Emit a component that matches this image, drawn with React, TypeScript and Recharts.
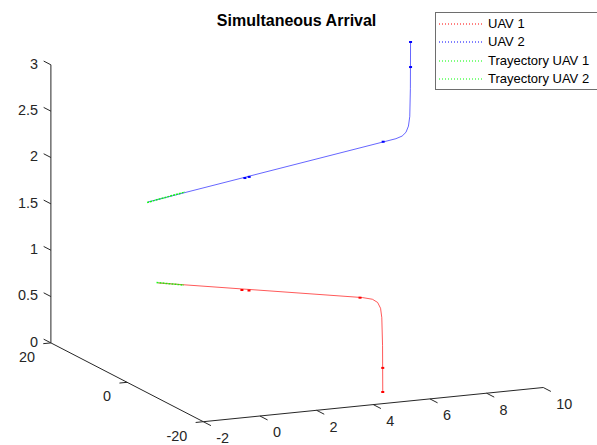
import React from 'react';
import { ComposedChart, Scatter, XAxis, YAxis, Legend } from 'recharts';

// ---- data (3D coordinates) ----
const uav1X = [-0.7, 4.5, 4.75, 4.88, 4.95, 4.98, 5.0, 5.0];
const uav1Y = [1.5, -13.45, -14.2, -14.6, -14.85, -14.95, -15.0, -15.05];
const uav1Z = [1, 1, 0.99, 0.96, 0.9, 0.8, 0.5, 0];

const uav2X = [-1.67, 9.27, 9.55, 9.72, 9.83, 9.89, 9.92, 9.93];
const uav2Y = [-3.06, 13.24, 13.7, 13.95, 14.12, 14.22, 14.28, 14.31];
const uav2Z = [2, 2, 2.01, 2.04, 2.1, 2.2, 2.5, 3];

const traj1X = [-0.73, -0.06];
const traj1Y = [1.72, -0.48];
const traj1Z = [1, 1];

const traj2X = [-1.73, -0.01];
const traj2Y = [-3.23, -0.39];
const traj2Z = [2, 2];

const uav1MarkX = [1.37, 1.55, 4.42, 5.0, 5.0];
const uav1MarkY = [-5.08, -5.6, -13.4, -15.05, -15.05];
const uav1MarkZ = [1, 1, 1, 0.26, 0];

const uav2MarkX = [2.56, 2.75, 8.72, 9.93, 9.93];
const uav2MarkY = [2.99, 3.28, 12.5, 14.31, 14.31];
const uav2MarkZ = [2, 2, 2, 2.73, 3];

const xTicks = [-2, 0, 2, 4, 6, 8, 10];
const xTickLabels = ['-2', '0', '2', '4', '6', '8', '10'];
const yTicks = [-20, 0, 20];
const yTickLabels = ['-20', '0', '20'];
const zTicks = [0, 0.5, 1, 1.5, 2, 2.5, 3];
const zTickLabels = ['0', '0.5', '1', '1.5', '2', '2.5', '3'];

const legendLabels = ['UAV 1', 'UAV 2', 'Trayectory UAV 1', 'Trayectory UAV 2'];
const legendColors = ['#ff0000', '#0000ff', '#00ff00', '#00ff00'];

const title = 'Simultaneous Arrival';

// ---- view (orthographic projection of the 3D box) ----
const W = 597;
const H = 445;
const VIEW = {
  ox: 203.3, oy: 421.7,
  x0: -2, y0: -20, z0: 0,
  ex: [28.33, -2.85],
  ey: [-3.81, -1.97],
  ez: [0, -92.7],
};
const project = (x: number, y: number, z: number) => {
  const a = x - VIEW.x0, b = y - VIEW.y0, c = z - VIEW.z0;
  return {
    px: VIEW.ox + VIEW.ex[0] * a + VIEW.ey[0] * b + VIEW.ez[0] * c,
    py: VIEW.oy + VIEW.ex[1] * a + VIEW.ey[1] * b + VIEW.ez[1] * c,
  };
};
const series = (xs: number[], ys: number[], zs: number[]) =>
  xs.map((x, i) => project(x, ys[i], zs[i]));

const AXIS = '#262626';
const FONT = '"Liberation Sans", Arial, Helvetica, sans-serif';

const uav1 = series(uav1X, uav1Y, uav1Z);
const uav2 = series(uav2X, uav2Y, uav2Z);
const traj1 = series(traj1X, traj1Y, traj1Z);
const traj2 = series(traj2X, traj2Y, traj2Z);
const marks1 = series(uav1MarkX, uav1MarkY, uav1MarkZ);
const marks2 = series(uav2MarkX, uav2MarkY, uav2MarkZ);

const xAxisLine = [project(-2, -20, 0), project(10, -20, 0)];
const yAxisLine = [project(-2, 20, 0), project(-2, -20, 0)];
const zAxisLine = [project(-2, 20, 0), project(-2, 20, 3)];

const mkTicks = (
  vals: number[], labels: string[],
  at: (v: number) => [number, number, number],
  end: (v: number) => [number, number, number],
  lab: { dx: number; dy: number; anchor: string }
) =>
  vals.map((v, i) => {
    const p = project(...at(v));
    const e = project(...end(v));
    return { ...p, tdx: e.px - p.px, tdy: e.py - p.py, label: labels[i], ...lab };
  });

const xTickData = mkTicks(xTicks, xTickLabels, (v) => [v, -20, 0], (v) => [v, -22, 0], { dx: 13, dy: 21.3, anchor: 'start' });
const yTickData = mkTicks(yTicks, yTickLabels, (v) => [-2, v, 0], (v) => [-2.27, v, 0], { dx: -16, dy: 19, anchor: 'end' });
const zTickData = mkTicks(zTicks, zTickLabels, (v) => [-2, 20, v], (v) => [-2, 21.9, v], { dx: -13, dy: 3.7, anchor: 'end' });

const Nothing = () => <g />;

const TickShape = (props: any) => {
  const { cx, cy, payload } = props;
  return (
    <g>
      <line x1={cx} y1={cy} x2={cx + payload.tdx} y2={cy + payload.tdy} stroke={AXIS} strokeWidth={1} />
      <text x={cx + payload.dx} y={cy + payload.dy} textAnchor={payload.anchor} fontSize={14.4} fill={AXIS} fontFamily={FONT}>
        {payload.label}
      </text>
    </g>
  );
};

const MarkShape = (color: string) => (props: any) => (
  <rect x={props.cx - 1.5} y={props.cy - 1} width={3} height={2} fill={color} />
);

const LegendBox = () => (
  <div style={{ width: 170, height: 76, border: '1px solid #6e6e6e', background: '#fff', fontFamily: FONT, fontSize: 13, color: '#000', boxSizing: 'content-box' }}>
    {legendLabels.map((l, i) => (
      <div key={l} style={{ position: 'absolute', left: 0, top: 3 + i * 18.4, height: 18, display: 'flex', alignItems: 'center' }}>
        <svg width={53} height={18} style={{ display: 'block' }}>
          <line x1={4} y1={9} x2={47} y2={9} stroke={legendColors[i]} strokeWidth={1} strokeDasharray="1 2" />
        </svg>
        <span style={{ whiteSpace: 'nowrap', lineHeight: '18px' }}>{l}</span>
      </div>
    ))}
  </div>
);

const lineProps = (color: string, w = 1, dash = '', op = 1) => ({ stroke: color, strokeWidth: w, strokeDasharray: dash, strokeOpacity: op });

export default function App() {
  return (
    <div style={{ position: 'absolute', left: 0, top: 0, width: W, height: H, overflow: 'hidden', background: '#fff' }}>
      <ComposedChart width={W} height={H} margin={{ top: 0, right: 0, bottom: 0, left: 0 }}>
        <XAxis type="number" dataKey="px" domain={[0, W]} allowDataOverflow hide />
        <YAxis type="number" dataKey="py" domain={[0, H]} reversed allowDataOverflow hide />
        <Legend
          layout="vertical"
          align="center"
          verticalAlign="middle"
          content={() => <LegendBox />}
          wrapperStyle={{ position: 'absolute', left: 435, top: 12, width: 172, height: 78 }}
        />
        <text x={296.6} y={25.5} textAnchor="middle" fontSize={16} fontWeight="bold" fill="#000" fontFamily={FONT}>
          {title}
        </text>

        <Scatter data={zAxisLine} line={lineProps(AXIS)} shape={Nothing} isAnimationActive={false} />
        <Scatter data={yAxisLine} line={lineProps(AXIS)} shape={Nothing} isAnimationActive={false} />
        <Scatter data={xAxisLine} line={lineProps(AXIS)} shape={Nothing} isAnimationActive={false} />
        <Scatter data={xTickData} shape={TickShape} isAnimationActive={false} />
        <Scatter data={yTickData} shape={TickShape} isAnimationActive={false} />
        <Scatter data={zTickData} shape={TickShape} isAnimationActive={false} />

        <Scatter name="UAV 1" data={uav1} line={lineProps('#ff0000', 1, '', 0.65)} shape={Nothing} isAnimationActive={false} />
        <Scatter name="UAV 2" data={uav2} line={lineProps('#0000ff', 1, '', 0.6)} shape={Nothing} isAnimationActive={false} />
        <Scatter data={marks1} shape={MarkShape('#ff0000')} isAnimationActive={false} />
        <Scatter data={marks2} shape={MarkShape('#0000ff')} isAnimationActive={false} />
        <Scatter name="Trayectory UAV 1" data={traj1} line={lineProps('#00ff00', 1.5, '2 1', 0.9)} shape={Nothing} isAnimationActive={false} />
        <Scatter name="Trayectory UAV 2" data={traj2} line={lineProps('#00ff00', 1.5, '2 1', 0.9)} shape={Nothing} isAnimationActive={false} />
      </ComposedChart>
    </div>
  );
}
